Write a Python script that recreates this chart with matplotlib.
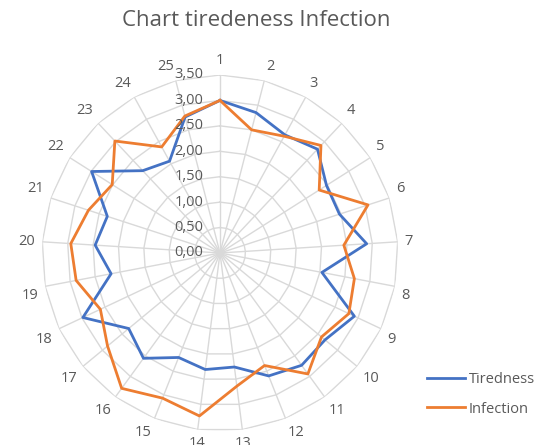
import numpy as np
import matplotlib
matplotlib.use("Agg")
import matplotlib.pyplot as plt

categories = [str(i) for i in range(1, 26)]
tiredness = [3.00, 2.85, 2.65, 2.80, 2.48, 2.47, 2.89, 2.04, 2.92, 2.68,
             2.73, 2.60, 2.26, 2.31, 2.21, 2.56, 2.33, 2.98, 2.18, 2.46,
             2.33, 2.99, 2.22, 2.06, 2.76]
infection = [3.00, 2.50, 2.62, 2.90, 2.31, 3.06, 2.44, 2.69, 2.80, 2.59,
             2.94, 2.38, 2.64, 3.23, 3.07, 3.29, 2.87, 2.60, 2.88, 2.94,
             2.72, 2.51, 3.02, 2.38, 2.78]
levels = [0.0, 0.5, 1.0, 1.5, 2.0, 2.5, 3.0, 3.5]
level_labels = ["0,00", "0,50", "1,00", "1,50", "2,00", "2,50", "3,00", "3,50"]
series_names = ["Tiredness", "Infection"]
colors = ["#4472C4", "#ED7D31"]
title = "Chart tiredeness Infection"

plt.rcParams['font.family'] = ['Open Sans', 'DejaVu Sans']
text_color = "#595959"
grid_color = "#D9D9D9"

fig = plt.figure(figsize=(5.47, 4.45), dpi=100)
ax = fig.add_axes([0.0768, 0.0315, 0.6508, 0.8], projection='polar')
ax.set_theta_zero_location('N')
ax.set_theta_direction(-1)
ax.set_ylim(0, 3.5)
ax.grid(False)
ax.spines['polar'].set_visible(False)
ax.set_xticks([])
ax.set_yticks([])
ax.patch.set_alpha(0)

n = len(categories)
angles = np.arange(n) * 2 * np.pi / n
closed = np.concatenate([angles, angles[:1]])

# polygon grid
for lv in levels[1:]:
    ax.plot(closed, [lv] * (n + 1), color=grid_color, lw=1.0, zorder=1)
for a in angles:
    ax.plot([a, a], [0, levels[-1]], color=grid_color, lw=1.0, zorder=1)

# series
for vals, name, c in zip([tiredness, infection], series_names, colors):
    v = np.concatenate([vals, vals[:1]])
    ax.plot(closed, v, color=c, lw=2.0, label=name, zorder=3)

# radial labels
for lv, lab in zip(levels, level_labels):
    ax.annotate(lab, xy=(0, lv), xytext=(-12.0, 0), textcoords='offset points',
                ha='right', va='center', fontsize=10.5, color=text_color, zorder=4)

# category labels
gap = 5.0
for a, lab in zip(angles, categories):
    s, c = np.sin(a), np.cos(a)
    ha = 'left' if s > 0.15 else ('right' if s < -0.15 else 'center')
    va = 'bottom' if c > 0.15 else ('top' if c < -0.15 else 'center')
    ax.annotate(lab, xy=(a, levels[-1]), xytext=(gap * s, gap * c),
                textcoords='offset points', ha=ha, va=va, fontsize=10.5,
                color=text_color, annotation_clip=False)

fig.text(0.468, 0.955, title, ha='center', va='center', fontsize=16, color=text_color)

leg = fig.legend(loc='center left', bbox_to_anchor=(0.757, 0.114), frameon=False,
                 fontsize=10.5, labelcolor=text_color, handlelength=2.6,
                 handletextpad=0.25, labelspacing=1.0)

fig.savefig("out.png", dpi=100)
